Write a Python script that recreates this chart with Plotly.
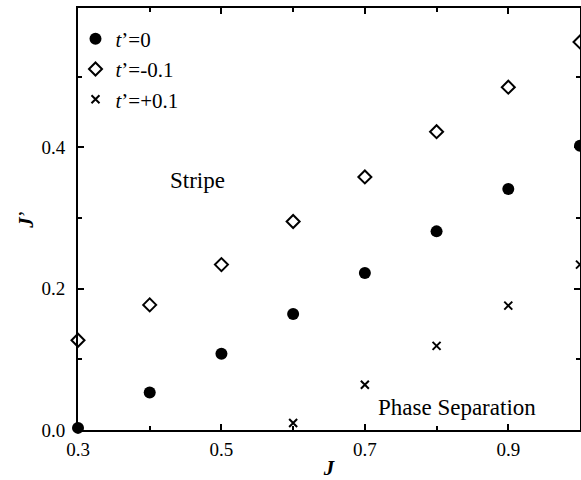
import plotly.graph_objects as go

J = [0.3, 0.4, 0.5, 0.6, 0.7, 0.8, 0.9, 1.0]
jp_t0 = [0.003, 0.053, 0.108, 0.164, 0.222, 0.281, 0.341, 0.402]
jp_tm = [0.127, 0.177, 0.234, 0.295, 0.358, 0.422, 0.485, 0.549]
J_tp = [0.6, 0.7, 0.8, 0.9, 1.0]
jp_tp = [0.010, 0.064, 0.119, 0.176, 0.234]

names = ["<i>t</i>’=0", "<i>t</i>’=-0.1", "<i>t</i>’=+0.1"]
xticks = [0.3, 0.5, 0.7, 0.9]
yticks = [0.0, 0.2, 0.4]

FONT = "Liberation Serif"

fig = go.Figure()
fig.add_trace(go.Scatter(x=J, y=jp_t0, mode="markers", name=names[0],
                         marker=dict(symbol="circle", size=12, color="black"),
                         cliponaxis=False))
fig.add_trace(go.Scatter(x=J, y=jp_tm, mode="markers", name=names[1],
                         marker=dict(symbol="diamond-open", size=10, color="black",
                                     line=dict(width=2, color="black")),
                         cliponaxis=False))
fig.add_trace(go.Scatter(x=J_tp, y=jp_tp, mode="markers", name=names[2],
                         marker=dict(symbol="x-thin", size=8, color="black",
                                     line=dict(width=2, color="black")),
                         cliponaxis=False))

fig.add_annotation(x=0.466, y=0.353, xref="x", yref="y", text="Stripe",
                   showarrow=False, font=dict(family=FONT, size=23, color="black"))
fig.add_annotation(x=0.829, y=0.032, xref="x", yref="y", text="Phase Separation",
                   showarrow=False, font=dict(family=FONT, size=23, color="black"))

axis_common = dict(showline=True, linewidth=2, linecolor="black", mirror="ticks",
                   ticks="inside", ticklen=6, tickwidth=2, tickcolor="black",
                   showgrid=False, zeroline=False,
                   tickfont=dict(family=FONT, size=19, color="black"))

fig.update_xaxes(range=[0.3, 1.0], tickvals=xticks, tickformat=".1f",
                 minor=dict(ticks="inside", ticklen=4, tickwidth=2, tickcolor="black",
                            dtick=0.1, tick0=0.3, showgrid=False),
                 ticklabelstandoff=1,
                 title=dict(text="<i><b>J</b></i>", font=dict(family=FONT, size=21, color="black"),
                            standoff=5),
                 **axis_common)
fig.update_yaxes(range=[0, 0.597], tickvals=yticks, tickformat=".1f",
                 minor=dict(ticks="inside", ticklen=4, tickwidth=2, tickcolor="black",
                            dtick=0.1, tick0=0.0, showgrid=False),
                 ticklabelstandoff=7,
                 title=dict(text="<i><b>J</b></i>’", font=dict(family=FONT, size=21, color="black"),
                            standoff=2),
                 **axis_common)

fig.update_layout(width=581, height=480,
                  margin=dict(l=78, r=1, t=8, b=50, autoexpand=False),
                  plot_bgcolor="white", paper_bgcolor="white",
                  font=dict(family=FONT, color="black"),
                  legend=dict(x=-0.005, y=0.975, xanchor="left", yanchor="top",
                              bgcolor="rgba(0,0,0,0)", borderwidth=0,
                              font=dict(family=FONT, size=21, color="black"),
                              itemwidth=30, tracegroupgap=0))

fig.write_html("out.html", config={"displayModeBar": False},
               post_script="document.body.style.margin='0';document.body.style.overflow='hidden';")
